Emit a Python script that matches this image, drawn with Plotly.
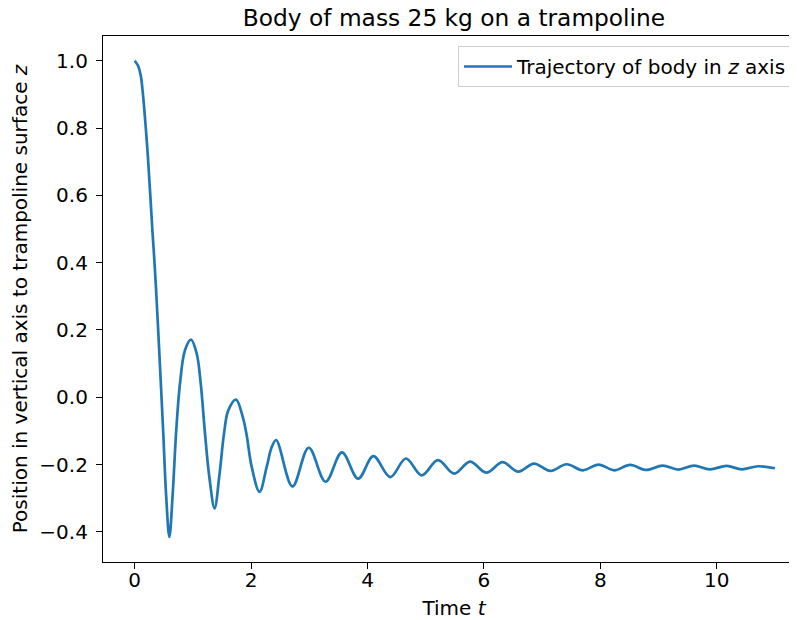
import plotly.graph_objects as go

# Time samples (s)
time_t = [0.0, 0.057, 0.103, 0.143, 0.182, 0.217, 0.246, 0.275, 0.302, 0.332, 0.366,
          0.435, 0.491, 0.538, 0.595, 0.653, 0.71, 0.778, 0.864, 0.967,
          1.065, 1.134, 1.208, 1.282, 1.372, 1.458, 1.534, 1.608, 1.74,
          1.856, 1.924, 2.01, 2.145, 2.268, 2.354, 2.43,
          2.71, 2.99, 3.28, 3.56, 3.84, 4.10, 4.39, 4.66, 4.93, 5.21,
          5.49, 5.76, 6.04, 6.32, 6.59, 6.86, 7.14, 7.42, 7.70, 7.97,
          8.24, 8.51, 8.79, 9.07, 9.34, 9.61, 9.88, 10.17, 10.43, 10.71, 11.0]
# Vertical position z
pos_z = [1.0, 0.985, 0.957, 0.897, 0.818, 0.739, 0.660, 0.580, 0.501, 0.422, 0.323,
         0.09, -0.108, -0.286, -0.415, -0.286, -0.108, 0.041, 0.140, 0.171,
         0.130, 0.041, -0.108, -0.237, -0.330, -0.227, -0.108, -0.039, -0.007,
         -0.058, -0.113, -0.207, -0.281, -0.207, -0.148, -0.127,
         -0.265, -0.150, -0.251, -0.164, -0.242, -0.175, -0.237, -0.182, -0.232, -0.187,
         -0.227, -0.191, -0.224, -0.193, -0.221, -0.197, -0.219, -0.199, -0.217, -0.200,
         -0.217, -0.201, -0.216, -0.203, -0.215, -0.203, -0.214, -0.204, -0.214, -0.205, -0.211]

x_ticks = [0, 2, 4, 6, 8, 10]
y_ticks = [-0.4, -0.2, 0.0, 0.2, 0.4, 0.6, 0.8, 1.0]
y_ticktext = ["\u22120.4", "\u22120.2", "0.0", "0.2", "0.4", "0.6", "0.8", "1.0"]

font_family = "DejaVu Sans, sans-serif"
FS = 20

# The page body adds an 8 px offset, so the margins compensate for it.
ML, MT, MB = 95, 28, 66
PLOT_H = 620 - MT - MB

fig = go.Figure()
fig.add_trace(go.Scatter(
    x=time_t, y=pos_z, mode="lines",
    line=dict(color="#1f77b4", width=2.7, shape="spline", smoothing=1.0),
    name="Trajectory of body in <i>z</i> axis",
))

fig.update_layout(
    width=797, height=620,
    paper_bgcolor="white", plot_bgcolor="white",
    font=dict(family=font_family, size=FS, color="black"),
    margin=dict(l=ML, r=0, t=MT, b=MB, autoexpand=False),
    title=dict(text="Body of mass 25 kg on a trampoline",
               x=446 / 797, xref="container", xanchor="center",
               y=1 - 10 / 620, yref="container", yanchor="middle",
               font=dict(size=23.3, family=font_family, color="black")),
    showlegend=True,
    legend=dict(x=(450 - ML) / (797 - ML), xanchor="left",
                y=1 - 10 / PLOT_H, yanchor="top", itemwidth=48,
                bgcolor="white", bordercolor="#cccccc", borderwidth=1,
                font=dict(size=FS, family=font_family)),
    xaxis=dict(range=[-0.545, 11.517], tickvals=x_ticks, ticks="outside",
               ticklen=6, tickwidth=1.2, tickcolor="black",
               ticklabelstandoff=-6,
               showline=True, linecolor="black", linewidth=1.2, mirror=True,
               showgrid=False, zeroline=False, automargin=False,
               title=dict(text="Time <i>t</i>", standoff=9,
                          font=dict(size=FS, family=font_family))),
    yaxis=dict(range=[-0.4895, 1.0735], tickvals=y_ticks, ticktext=y_ticktext,
               ticks="outside", ticklen=6, tickwidth=1.2, tickcolor="black",
               ticklabelstandoff=4,
               showline=True, linecolor="black", linewidth=1.2, mirror=False,
               showgrid=False, zeroline=False, automargin=False,
               title=dict(text="Position in vertical axis to trampoline surface <i>z</i>",
                          standoff=9, font=dict(size=FS, family=font_family))),
)

fig.write_html("out.html")
